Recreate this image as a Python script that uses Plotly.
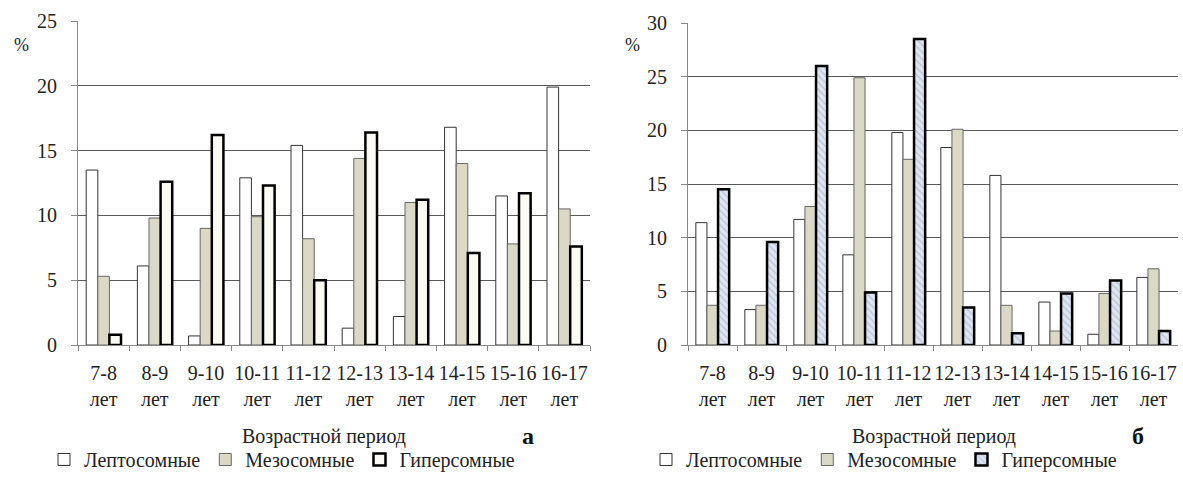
import plotly.graph_objects as go

periods = ["7-8", "8-9", "9-10", "10-11", "11-12", "12-13", "13-14", "14-15", "15-16", "16-17"]
tick_labels = [p + "<br>лет" for p in periods]
series_names = ["Лептосомные", "Мезосомные", "Гиперсомные"]

a_lepto = [13.5, 6.1, 0.7, 12.9, 15.4, 1.3, 2.2, 16.8, 11.5, 19.9]
a_meso = [5.3, 9.8, 9.0, 9.9, 8.2, 14.4, 11.0, 14.0, 7.8, 10.5]
a_hyper = [0.8, 12.6, 16.2, 12.3, 5.0, 16.4, 11.2, 7.1, 11.7, 7.6]

b_lepto = [11.4, 3.3, 11.7, 8.4, 19.8, 18.4, 15.8, 4.0, 1.0, 6.3]
b_meso = [3.7, 3.7, 12.9, 24.9, 17.3, 20.1, 3.7, 1.3, 4.8, 7.1]
b_hyper = [14.5, 9.6, 26.0, 4.9, 28.5, 3.5, 1.1, 4.8, 6.0, 1.3]

FONT = "Times New Roman"
W, H = 1183, 479

fig = go.Figure()

# chart a
fig.add_bar(x=tick_labels, y=a_lepto, name=series_names[0], xaxis="x", yaxis="y",
            marker=dict(color="white", line=dict(color="#333333", width=1)), legend="legend")
fig.add_bar(x=tick_labels, y=a_meso, name=series_names[1], xaxis="x", yaxis="y",
            marker=dict(color="#dcd8c6", line=dict(color="#666666", width=1)), legend="legend")
fig.add_bar(x=tick_labels, y=a_hyper, name=series_names[2], xaxis="x", yaxis="y",
            marker=dict(color="#fbfbf4", line=dict(color="#000000", width=2.5)), legend="legend")

# chart b
fig.add_bar(x=tick_labels, y=b_lepto, name=series_names[0], xaxis="x2", yaxis="y2",
            marker=dict(color="white", line=dict(color="#333333", width=1)), legend="legend2")
fig.add_bar(x=tick_labels, y=b_meso, name=series_names[1], xaxis="x2", yaxis="y2",
            marker=dict(color="#dcd8c6", line=dict(color="#666666", width=1)), legend="legend2")
fig.add_bar(x=tick_labels, y=b_hyper, name=series_names[2], xaxis="x2", yaxis="y2",
            marker=dict(color="#dfe6f2", line=dict(color="#000000", width=2.5),
                        pattern=dict(shape="\\", fgcolor="#9aa8c0", bgcolor="#dfe6f2",
                                     size=5, solidity=0.3)),
            legend="legend2")

y0 = 1 - 345 / H
xcommon = dict(type="category", showline=True, linecolor="#888888", linewidth=1,
               ticks="outside", ticklen=5, tickcolor="#888888", tickson="boundaries",
               showgrid=False, tickangle=0, automargin=False,
               tickfont=dict(family=FONT, size=20, color="#222222"),
               ticklabelstandoff=10)
ycommon = dict(showline=True, linecolor="#888888", linewidth=1, ticks="outside",
               ticklen=6, tickcolor="#888888", showgrid=True, gridcolor="#5a5a5a",
               gridwidth=1, zeroline=False, automargin=False,
               tickfont=dict(family=FONT, size=20, color="#222222"), ticklabelstandoff=10)

ann_font = dict(family=FONT, size=20, color="#222222")
leg_font = dict(family=FONT, size=20, color="#222222")
fig.update_layout(
    width=W, height=H,
    margin=dict(l=0, r=0, t=0, b=0, autoexpand=False),
    paper_bgcolor="white", plot_bgcolor="white",
    barmode="group", bargap=0.32, bargroupgap=0,
    font=dict(family=FONT, size=18, color="#222222"),
    xaxis=dict(domain=[78 / W, 590 / W], anchor="y", **xcommon),
    yaxis=dict(domain=[y0, 1 - 21 / H], anchor="x", range=[0, 25], dtick=5, **ycommon),
    xaxis2=dict(domain=[688 / W, 1178 / W], anchor="y2", **xcommon),
    yaxis2=dict(domain=[y0, 1 - 23 / H], anchor="x2", range=[0, 30], dtick=5, **ycommon),
    legend=dict(orientation="h", x=44 / W, y=0, xanchor="left", yanchor="bottom",
                font=leg_font, bgcolor="rgba(0,0,0,0)", itemwidth=30, tracegroupgap=0),
    legend2=dict(orientation="h", x=646 / W, y=0, xanchor="left", yanchor="bottom",
                 font=leg_font, bgcolor="rgba(0,0,0,0)", itemwidth=30, tracegroupgap=0),
    showlegend=True,
    annotations=[
        dict(text="%", x=21 / W, y=1 - 45 / H, xref="paper", yref="paper", showarrow=False,
             xanchor="center", yanchor="middle",
             font=dict(family=FONT, size=18, color="#222222")),
        dict(text="%", x=632 / W, y=1 - 45 / H, xref="paper", yref="paper", showarrow=False,
             xanchor="center", yanchor="middle",
             font=dict(family=FONT, size=18, color="#222222")),
        dict(text="Возрастной период", x=324 / W, y=1 - 436 / H, xref="paper", yref="paper",
             showarrow=False, xanchor="center", yanchor="middle", font=ann_font),
        dict(text="Возрастной период", x=934 / W, y=1 - 436 / H, xref="paper", yref="paper",
             showarrow=False, xanchor="center", yanchor="middle", font=ann_font),
        dict(text="<b>а</b>", x=528 / W, y=1 - 436 / H, xref="paper", yref="paper",
             showarrow=False, xanchor="center", yanchor="middle",
             font=dict(family=FONT, size=24, color="#111111")),
        dict(text="<b>б</b>", x=1138 / W, y=1 - 436 / H, xref="paper", yref="paper",
             showarrow=False, xanchor="center", yanchor="middle",
             font=dict(family=FONT, size=24, color="#111111")),
    ],
)

fig.write_html("out.html")
